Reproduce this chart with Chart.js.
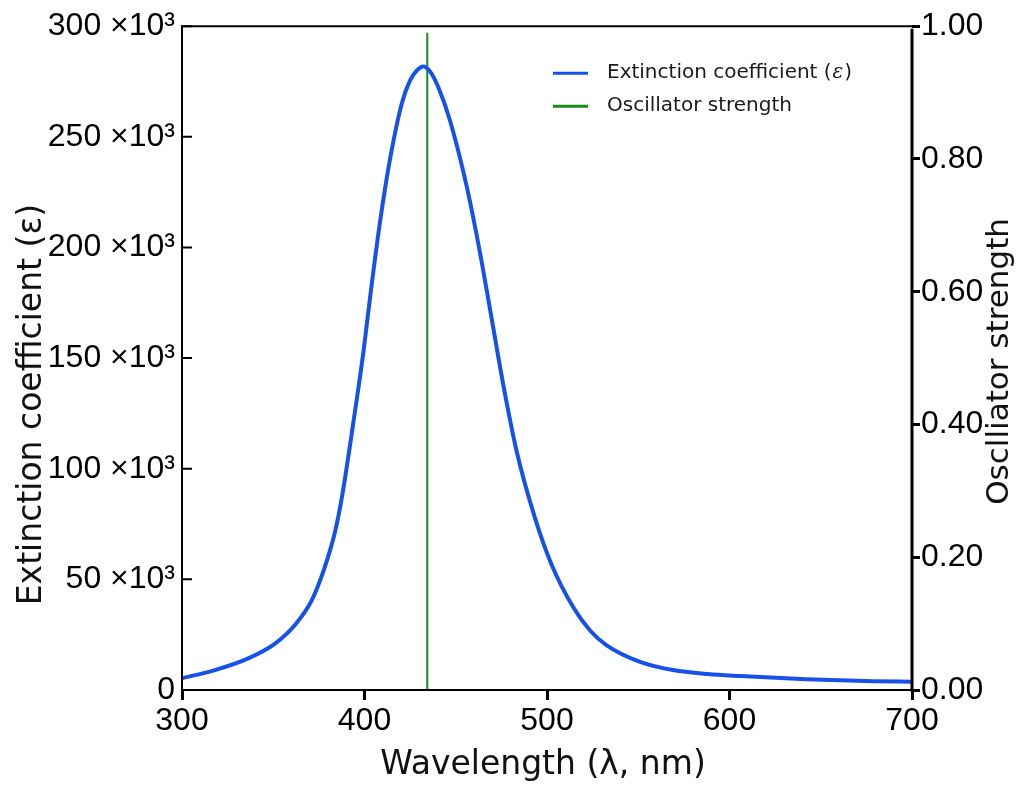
<!DOCTYPE html>
<html>
<head>
<meta charset="utf-8">
<script src="https://cdn.jsdelivr.net/npm/chart.js@4.4.1/dist/chart.umd.min.js"></script>
<style>
html,body{margin:0;padding:0;background:#fff;}
#wrap{width:1022px;height:785px;position:relative;}
</style>
</head>
<body>
<div id="wrap"><canvas id="c"></canvas></div>
<script>
// ---- data ----
const wavelengths = [300, 318, 336, 351, 362, 371, 378, 384, 388, 394, 399.4, 403.6, 408.5, 414, 420.4, 424.9, 428.6, 432.2, 435.9, 440.4, 446.8, 456, 463.3, 469.7, 476.1, 483.4, 493.4, 502.6, 514.4, 523.6, 532.7, 551, 569, 588, 606, 642, 679, 700];
const extinction  = [5300, 9000, 14200, 21000, 29500, 40400, 55000, 72000, 89000, 121500, 152700, 181000, 211500, 240000, 265000, 275400, 279900, 281800, 279600, 272500, 257500, 227600, 197600, 167700, 137700, 107800, 77800, 56500, 37400, 26900, 20200, 12700, 9000, 7200, 6300, 4900, 4000, 3700];
const oscWavelengths = [434.4];
const oscStrengths = [0.99];

const xTickLabels = ['300', '400', '500', '600', '700'];
const yTickLabels = ['0', '50 ×10³', '100 ×10³', '150 ×10³', '200 ×10³', '250 ×10³', '300 ×10³'];
const y1TickLabels = ['0.00', '0.20', '0.40', '0.60', '0.80', '1.00'];
const seriesLabels = ['Extinction coefficient (ε)', 'Oscillator strength'];
const xTitle = 'Wavelength (λ, nm)';
const yTitle = 'Extinction coefficient (ε)';
const y1Title = 'Osclliator strength';

// ---- build datasets ----
const epsPoints = wavelengths.map((w, i) => ({x: w, y: extinction[i]}));
const oscPoints = [];
oscWavelengths.forEach((w, i) => { oscPoints.push({x: w, y: 0}, {x: w, y: oscStrengths[i]}); });

const BLUE = '#1652ea';
const GREEN = '#178a17';
const TICK_FONT = {family: '"Liberation Sans", Arimo, Arial, sans-serif', size: 32};

const framePlugin = {
  id: 'frame',
  afterDatasetsDraw(chart) {
    const {ctx, chartArea: a, scales} = chart;
    ctx.save();
    ctx.strokeStyle = '#000';
    ctx.lineCap = 'square';
    ctx.lineWidth = 2;
    ctx.beginPath();
    ctx.moveTo(a.left, a.top); ctx.lineTo(a.right, a.top);
    ctx.moveTo(a.left, a.top); ctx.lineTo(a.left, a.bottom);
    ctx.moveTo(a.left, a.bottom); ctx.lineTo(a.right, a.bottom);
    ctx.stroke();
    // inward ticks on the left axis
    ctx.beginPath();
    scales.y.ticks.forEach((t, i) => {
      const py = scales.y.getPixelForTick(i);
      ctx.moveTo(a.left, py); ctx.lineTo(a.left + 9, py);
    });
    ctx.stroke();
    ctx.lineWidth = 3;
    ctx.beginPath();
    ctx.moveTo(a.right, a.top + 4); ctx.lineTo(a.right, a.bottom);
    ctx.stroke();
    ctx.restore();
  },
  afterDraw(chart) {
    const {ctx, chartArea: a} = chart;
    ctx.save();
    ctx.fillStyle = '#111';
    ctx.textBaseline = 'middle';
    ctx.textAlign = 'center';
    ctx.font = '33px "DejaVu Sans", sans-serif';
    ctx.fillText(xTitle, (a.left + a.right) / 2 - 4, 765);
    ctx.save();
    ctx.translate(32, a.top + (a.bottom - a.top) * 0.57);
    ctx.rotate(-Math.PI / 2);
    ctx.font = '33px "DejaVu Sans", sans-serif';
    ctx.fillText(yTitle, 0, 0);
    ctx.restore();
    ctx.save();
    ctx.translate(1000, a.top + (a.bottom - a.top) * 0.505);
    ctx.rotate(-Math.PI / 2);
    ctx.font = '31px "DejaVu Sans", sans-serif';
    ctx.fillText(y1Title, 0, 0);
    ctx.restore();

    // legend
    const lx0 = a.right - 359, lx1 = a.right - 324, tx = a.right - 305;
    const rows = [a.top + 47, a.top + 80];
    chart.data.datasets.forEach((ds, i) => {
      const yy = rows[i];
      ctx.strokeStyle = ds.borderColor;
      ctx.lineWidth = 3;
      ctx.beginPath(); ctx.moveTo(lx0, yy); ctx.lineTo(lx1, yy); ctx.stroke();
      ctx.textAlign = 'left';
      ctx.fillStyle = '#1a1a1a';
      const parts = ds.label.split('ε');
      let x = tx;
      const normal = '20px "DejaVu Sans", sans-serif';
      const ital = 'italic 20px "DejaVu Serif", serif';
      parts.forEach((p, k) => {
        ctx.font = normal;
        ctx.fillText(p, x, yy);
        x += ctx.measureText(p).width;
        if (k < parts.length - 1) {
          ctx.font = ital;
          ctx.fillText('ε', x + 1, yy);
          x += ctx.measureText('ε').width + 2;
        }
      });
    });
    ctx.restore();
  }
};

const chart = new Chart(document.getElementById('c'), {
  type: 'line',
  data: {
    datasets: [
      {
        label: seriesLabels[0],
        data: epsPoints,
        yAxisID: 'y',
        borderColor: BLUE,
        borderWidth: 4,
        pointRadius: 0,
        cubicInterpolationMode: 'monotone',
        fill: false
      },
      {
        label: seriesLabels[1],
        data: oscPoints,
        yAxisID: 'y1',
        borderColor: GREEN,
        borderWidth: 2,
        pointRadius: 0,
        tension: 0,
        fill: false
      }
    ]
  },
  plugins: [framePlugin],
  options: {
    responsive: true,
    maintainAspectRatio: false,
    animation: false,
    devicePixelRatio: 1,
    layout: {padding: {top: 22, left: 0, right: 0, bottom: 0}},
    plugins: {legend: {display: false}, tooltip: {enabled: false}},
    scales: {
      x: {
        type: 'linear',
        min: 300, max: 700,
        afterFit: s => { s.height = 95; },
        border: {display: false},
        grid: {drawOnChartArea: false, drawTicks: true, tickLength: 10, tickWidth: 3, color: '#000'},
        ticks: {
          stepSize: 100, color: '#000', font: TICK_FONT, padding: 2, maxRotation: 0,
          callback: (v, i) => xTickLabels[i]
        }
      },
      y: {
        type: 'linear', position: 'left',
        min: 0, max: 300000,
        afterFit: s => { s.width = 182; },
        border: {display: false},
        grid: {display: false, drawTicks: false},
        ticks: {
          stepSize: 50000, color: '#000', font: TICK_FONT, padding: 7,
          callback: (v, i) => yTickLabels[i]
        }
      },
      y1: {
        type: 'linear', position: 'right',
        min: 0, max: 1,
        afterFit: s => { s.width = 110; },
        border: {display: false},
        grid: {drawOnChartArea: false, drawTicks: true, tickLength: 8, tickWidth: 3, color: '#000'},
        ticks: {
          stepSize: 0.2, color: '#000', font: TICK_FONT, padding: 1,
          callback: (v, i) => y1TickLabels[i]
        }
      }
    }
  }
});
if (document.fonts && document.fonts.load) {
  Promise.all([
    document.fonts.load('32px "Liberation Sans"'),
    document.fonts.load('33px "DejaVu Sans"'),
    document.fonts.load('italic 20px "DejaVu Serif"')
  ]).then(() => chart.update('none')).catch(() => {});
}
</script>
</body>
</html>
